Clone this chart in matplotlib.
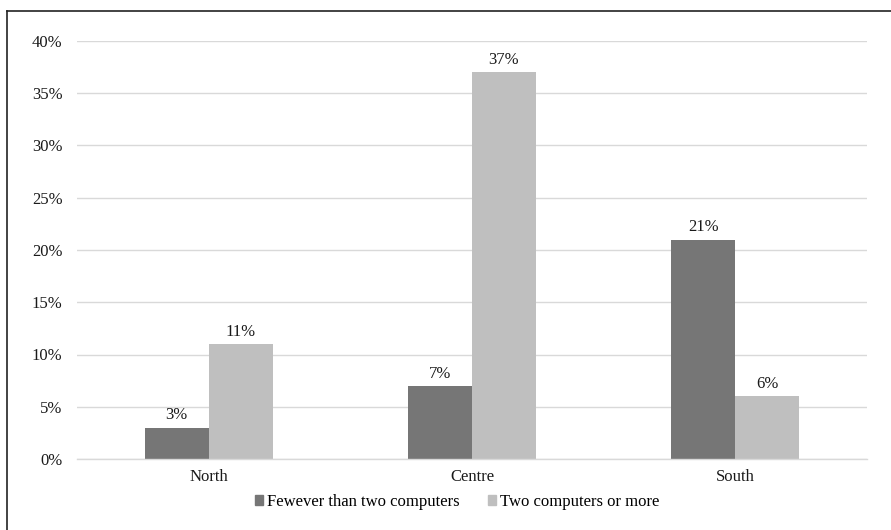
import matplotlib.pyplot as plt
import matplotlib.patches as mpatches
from matplotlib.lines import Line2D
import numpy as np

# data
regions = ["North", "Centre", "South"]
fewer = [3, 7, 21]
two_or_more = [11, 37, 6]
series_names = ["Fewever than two computers", "Two computers or more"]
yticks = [0, 5, 10, 15, 20, 25, 30, 35, 40]

DARK = "#767676"
LIGHT = "#BFBFBF"
GRID = "#D9D9D9"

plt.rcParams["font.family"] = ["Liberation Serif", "DejaVu Serif"]

W, H = 891, 530
fig = plt.figure(figsize=(W / 100, H / 100), dpi=100)
ax = fig.add_axes([77 / W, 1 - 459 / H, (867 - 77) / W, (459 - 41) / H])

x = np.arange(len(regions))
bw = 0.243
b1 = ax.bar(x - bw / 2, fewer, bw, color=DARK, zorder=2, label=series_names[0])
b2 = ax.bar(x + bw / 2, two_or_more, bw, color=LIGHT, zorder=2, label=series_names[1])

# value labels
for bars, vals in [(b1, fewer), (b2, two_or_more)]:
    for b, v in zip(bars, vals):
        ax.text(b.get_x() + b.get_width() / 2, v + 0.4, f"{v}%",
                ha="center", va="bottom", fontsize=12, color="#1a1a1a")

ax.set_xlim(-0.5, 2.5)
ax.set_ylim(0, 40)
ax.set_yticks(yticks)
ax.set_yticklabels([f"{t}%" for t in yticks])
ax.set_xticks(x)
ax.set_xticklabels(regions)
ax.tick_params(axis="both", length=0, labelsize=12, colors="#1a1a1a")
ax.tick_params(axis="y", pad=10.5)
ax.tick_params(axis="x", pad=7.5)
ax.yaxis.grid(True, color=GRID, linewidth=1, zorder=0)
ax.set_axisbelow(True)
for s in ["top", "right", "left"]:
    ax.spines[s].set_visible(False)
ax.spines["bottom"].set_color(GRID)
ax.spines["bottom"].set_linewidth(1)

handles = [mpatches.Patch(color=DARK, label=series_names[0]),
           mpatches.Patch(color=LIGHT, label=series_names[1])]
fig.legend(handles=handles, loc="center", bbox_to_anchor=(457 / W, 1 - 502 / H),
           ncol=2, frameon=False, fontsize=12, handlelength=0.48, handleheight=0.48,
           handletextpad=0.25, columnspacing=1.7, borderpad=0, borderaxespad=0)

# partial frame (left and top edges)
fig.add_artist(Line2D([7 / W, 7 / W], [0, 1 - 11 / H], color="#222222", linewidth=1.2,
                      transform=fig.transFigure))
fig.add_artist(Line2D([7 / W, 1], [1 - 11 / H, 1 - 11 / H], color="#222222", linewidth=1.2,
                      transform=fig.transFigure))

fig.savefig("out.png", dpi=100)
